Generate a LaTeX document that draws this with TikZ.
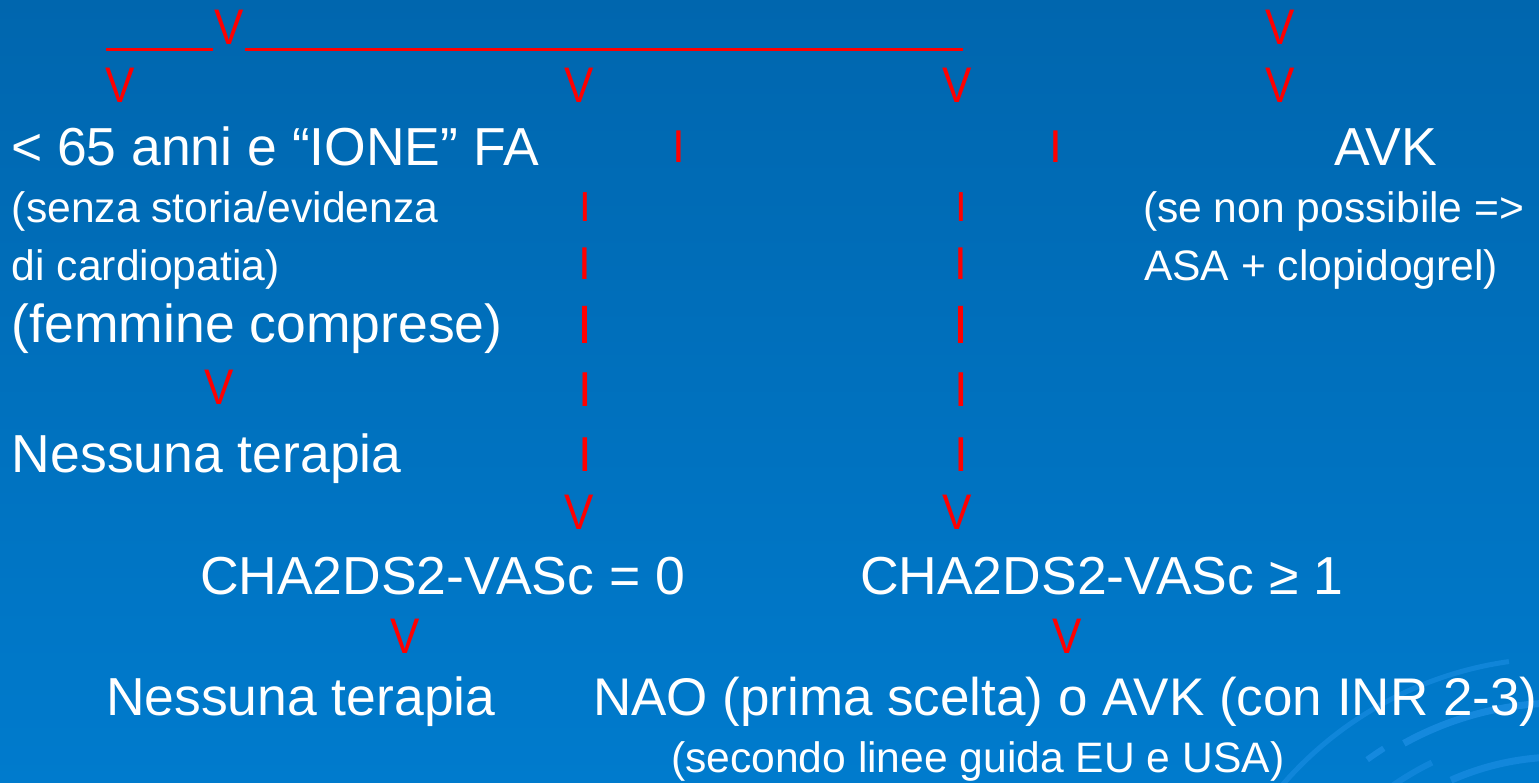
\documentclass[tikz,border=0pt]{standalone}
\usepackage{fontspec}
\setmainfont{Liberation Sans}
\newfontfamily\vfont[FakeStretch=0.88]{Liberation Sans}
\definecolor{bgtop}{HTML}{0066AE}
\definecolor{bgbot}{HTML}{007BCD}
\definecolor{arcblue}{HTML}{1E90E6}
\definecolor{arrred}{HTML}{FF0000}
\tikzset{
  txt/.style={inner sep=0pt, outer sep=0pt, anchor=base west, text=white},
  big/.style={txt, font=\fontsize{53.5}{60}\selectfont},
  small/.style={txt, font=\fontsize{42.6}{48}\selectfont},
  varr/.style={inner sep=0pt, outer sep=0pt, anchor=north, text=arrred, font=\vfont\fontsize{50}{56}\selectfont},
  ibar/.style={inner sep=0pt, outer sep=0pt, anchor=north, text=arrred},
  redline/.style={draw=arrred, line width=3pt},
  deco/.style={draw=arcblue, line width=6pt, opacity=0.7}
}
\begin{document}
\begin{tikzpicture}[x=1pt,y=-1pt]
\useasboundingbox (0,0) rectangle (1539,783);
\shade[top color=bgtop, bottom color=bgbot] (0,0) rectangle (1539,783);
% decorative arcs (bottom right)
\begin{scope}
\clip (0,0) rectangle (1539,783);
\coordinate (ac) at (1560,1025);
\draw[deco, line width=5pt, opacity=0.55] (ac) ++(221:367) arc[start angle=221, end angle=262, radius=367];
\draw[deco, line width=7pt] (ac) ++(241:322) arc[start angle=241, end angle=275, radius=322];
\draw[deco, line width=6pt] (ac) ++(234:328) arc[start angle=234, end angle=237.5, radius=328];
\draw[deco, line width=6pt, opacity=0.5] (ac) ++(218:292) arc[start angle=218, end angle=244, radius=292];
\draw[deco, line width=7pt, opacity=0.6] (ac) ++(246:268) arc[start angle=246, end angle=280, radius=268];
\end{scope}

% top red line with V
\coordinate (l1a) at (106,49.5);
\coordinate (l1b) at (213,49.5);
\coordinate (l2a) at (245,49.5);
\coordinate (l2b) at (963,49.5);
\draw[redline] (l1a) -- (l1b);
\draw[redline] (l2a) -- (l2b);
\node[varr] (vtop) at (229,10) {V};
\node[varr] (vtopr) at (1280,10) {V};

% second row of V
\node[varr] (va) at (120,68) {V};
\node[varr] (vb) at (579,68) {V};
\node[varr] (vc) at (957,68) {V};
\node[varr] (vd) at (1280,68) {V};

% line 1
\node[big] (t1) at (11,166) {< 65 anni e “IONE” FA};
\node[ibar, font=\fontsize{46}{50}\selectfont] (i1) at (679,131) {I};
\node[ibar, font=\fontsize{46}{50}\selectfont] (i2) at (1056,131) {I};
\node[big] (avk) at (1334,166) {AVK};

% left column texts
\node[small] (t2) at (12,223) {(senza storia/evidenza};
\node[small] (t3) at (12,281) {di cardiopatia)};
\node[big] (t4) at (12,343) {(femmine comprese)};
\node[varr] (ve) at (219,370) {V};
\node[big] (t5) at (12,472) {Nessuna terapia};

% right texts
\node[small] (r1) at (1143,223) {(se non possibile =>};
\node[small] (r2) at (1144,281) {ASA + clopidogrel)};

% dashed columns of I
\foreach \cx/\nm in {585/a,961/b}{
  \node[ibar, font=\fontsize{42}{46}\selectfont] (ia1\nm) at (\cx,193) {I};
  \node[ibar, font=\fontsize{46}{50}\selectfont] (ia2\nm) at (\cx,248) {I};
  \node[ibar, font=\fontsize{54}{58}\selectfont] (ia3\nm) at (\cx,306) {I};
  \node[ibar, font=\fontsize{49}{54}\selectfont] (ia4\nm) at (\cx,373) {I};
  \node[ibar, font=\fontsize{49}{54}\selectfont] (ia5\nm) at (\cx,438) {I};
}
\node[varr] (vf) at (579,495) {V};
\node[varr] (vg) at (957,495) {V};

% CHA2DS2 row
\node[big] (c0) at (200,594) {CHA2DS2-VASc = 0};
\node[big] (c1) at (860,594) {CHA2DS2-VASc ≥ 1};
\node[varr] (vh) at (405,619) {V};
\node[varr] (vi) at (1067,619) {V};

% bottom row
\node[big] (b0) at (106,715) {Nessuna terapia};
\node[big, font=\fontsize{53}{60}\selectfont] (b1) at (593,715) {NAO (prima scelta) o AVK (con INR 2-3)};
\node[small] (b2) at (671,772) {(secondo linee guida EU e USA)};
\end{tikzpicture}
\end{document}
